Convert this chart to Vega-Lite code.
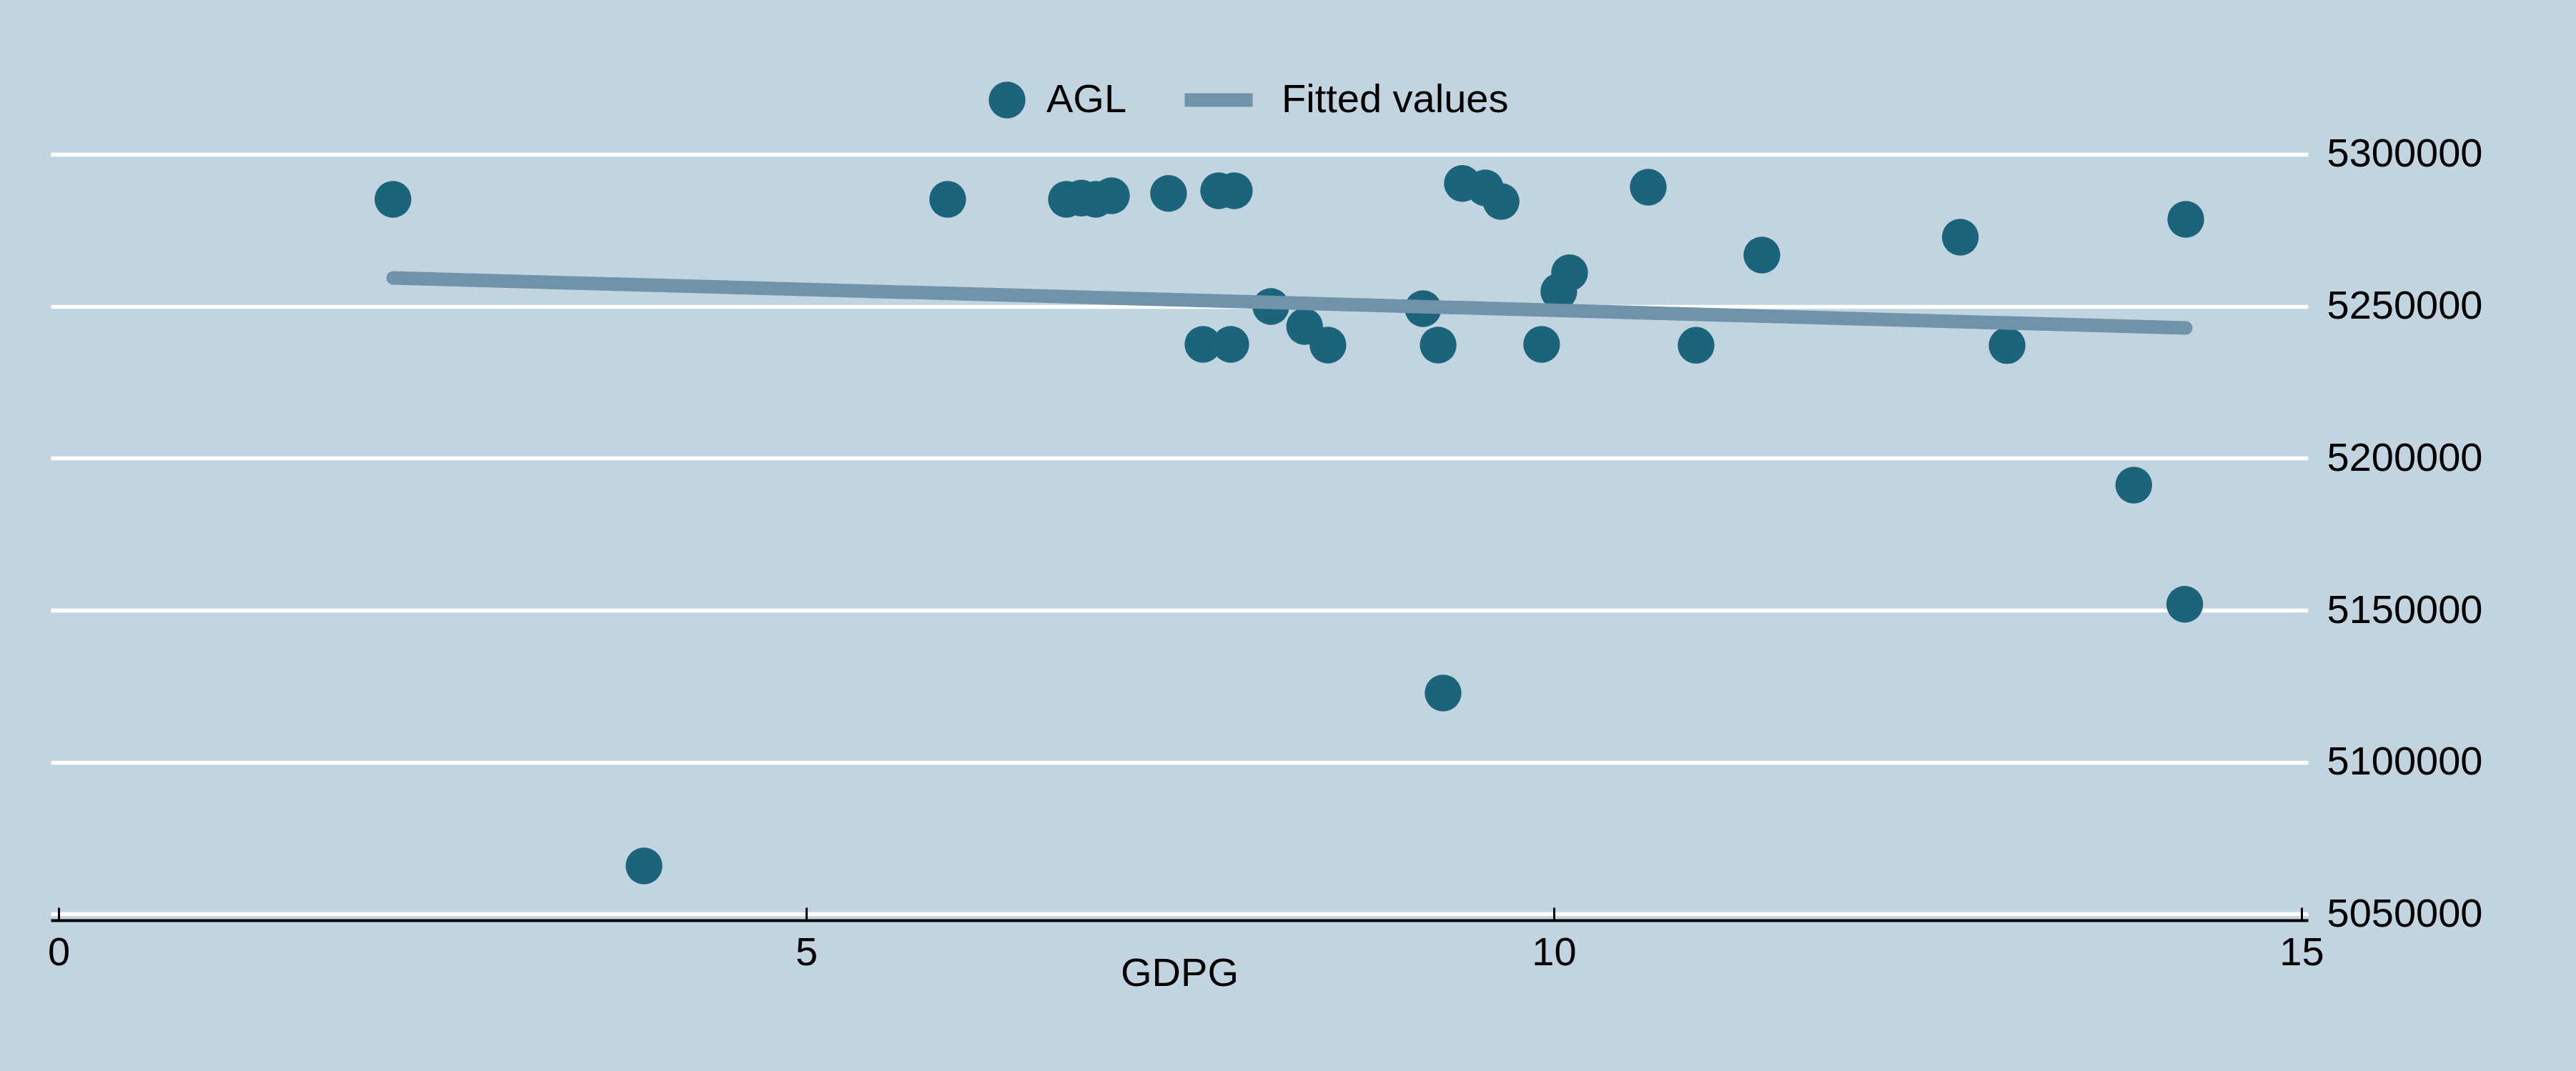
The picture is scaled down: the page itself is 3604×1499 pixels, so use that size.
{
  "$schema": "https://vega.github.io/schema/vega-lite/v6.json",
  "width": 3158,
  "height": 1088,
  "autosize": {"type": "none"},
  "padding": {"left": 71, "top": 200, "right": 375, "bottom": 211},
  "background": "#C1D4E0",
  "config": {"view": {"stroke": null}, "font": "Liberation Sans"},
  "datasets": {
    "points": [
      {"GDPG": 2.236, "AGL": 5285190, "series": "AGL"},
      {"GDPG": 3.915, "AGL": 5065870, "series": "AGL"},
      {"GDPG": 5.946, "AGL": 5285190, "series": "AGL"},
      {"GDPG": 6.740, "AGL": 5285190, "series": "AGL"},
      {"GDPG": 6.840, "AGL": 5285590, "series": "AGL"},
      {"GDPG": 6.936, "AGL": 5285190, "series": "AGL"},
      {"GDPG": 7.041, "AGL": 5286370, "series": "AGL"},
      {"GDPG": 7.423, "AGL": 5287140, "series": "AGL"},
      {"GDPG": 7.758, "AGL": 5288010, "series": "AGL"},
      {"GDPG": 7.863, "AGL": 5288010, "series": "AGL"},
      {"GDPG": 7.653, "AGL": 5237470, "series": "AGL"},
      {"GDPG": 7.839, "AGL": 5237470, "series": "AGL"},
      {"GDPG": 8.107, "AGL": 5249930, "series": "AGL"},
      {"GDPG": 8.333, "AGL": 5243350, "series": "AGL"},
      {"GDPG": 8.489, "AGL": 5237240, "series": "AGL"},
      {"GDPG": 9.125, "AGL": 5249220, "series": "AGL"},
      {"GDPG": 9.226, "AGL": 5237240, "series": "AGL"},
      {"GDPG": 9.259, "AGL": 5122760, "series": "AGL"},
      {"GDPG": 9.388, "AGL": 5290430, "series": "AGL"},
      {"GDPG": 9.541, "AGL": 5288950, "series": "AGL"},
      {"GDPG": 9.647, "AGL": 5284490, "series": "AGL"},
      {"GDPG": 9.918, "AGL": 5237470, "series": "AGL"},
      {"GDPG": 10.033, "AGL": 5254870, "series": "AGL"},
      {"GDPG": 10.105, "AGL": 5261050, "series": "AGL"},
      {"GDPG": 10.631, "AGL": 5289190, "series": "AGL"},
      {"GDPG": 10.951, "AGL": 5237160, "series": "AGL"},
      {"GDPG": 11.391, "AGL": 5266850, "series": "AGL"},
      {"GDPG": 12.718, "AGL": 5272730, "series": "AGL"},
      {"GDPG": 13.031, "AGL": 5237080, "series": "AGL"},
      {"GDPG": 13.878, "AGL": 5191160, "series": "AGL"},
      {"GDPG": 14.219, "AGL": 5151970, "series": "AGL"},
      {"GDPG": 14.226, "AGL": 5278610, "series": "AGL"}
    ],
    "fit": [
      {"GDPG": 2.237, "AGL": 5259330, "series": "Fitted values"},
      {"GDPG": 14.226, "AGL": 5242880, "series": "Fitted values"}
    ]
  },
  "layer": [
    {
      "data": {"name": "points"},
      "mark": {"type": "point", "filled": true, "opacity": 1, "size": 2642, "strokeWidth": 0},
      "encoding": {
        "x": {
          "field": "GDPG",
          "type": "quantitative",
          "scale": {"domain": [-0.0526, 15.043], "nice": false, "zero": false},
          "axis": {
            "orient": "bottom",
            "values": [0, 5, 10, 15],
            "format": "d",
            "grid": false,
            "domain": true,
            "domainColor": "black",
            "domainWidth": 4,
            "ticks": true,
            "tickColor": "black",
            "tickWidth": 3,
            "tickSize": -18,
            "labelFontSize": 56,
            "labelColor": "black",
            "labelPadding": 36,
            "labelFlush": false,
            "labelOverlap": false,
            "labelLimit": 0,
            "title": "GDPG",
            "titleFontSize": 56,
            "titleFontWeight": "normal",
            "titleColor": "black",
            "titlePadding": -26
          }
        },
        "y": {
          "field": "AGL",
          "type": "quantitative",
          "scale": {"domain": [5048000, 5303761], "nice": false, "zero": false},
          "axis": {
            "orient": "right",
            "values": [5050000, 5100000, 5150000, 5200000, 5250000, 5300000],
            "format": "d",
            "grid": true,
            "gridColor": "white",
            "gridWidth": 5.5,
            "gridOpacity": 1,
            "domain": false,
            "ticks": false,
            "tickSize": 0,
            "labelFontSize": 56,
            "labelColor": "black",
            "labelPadding": 26,
            "labelFlush": false,
            "labelOverlap": false,
            "labelLimit": 0,
            "title": null
          }
        },
        "color": {
          "field": "series",
          "type": "nominal",
          "scale": {"domain": ["AGL", "Fitted values"], "range": ["#1C637C", "#6F93AA"]},
          "legend": {
            "orient": "none",
            "legendX": 1310,
            "legendY": -88,
            "direction": "horizontal",
            "title": null,
            "padding": 0,
            "labelFontSize": 56,
            "labelColor": "black",
            "labelOffset": 27,
            "labelLimit": 0,
            "columnPadding": 80,
            "symbolSize": 2642,
            "symbolType": "circle",
            "symbolStrokeWidth": 0,
            "symbolOpacity": 1,
            "encode": {
              "symbols": {
                "update": {
                  "shape": {"signal": "datum.value === 'AGL' ? 'circle' : 'M-1.85,-0.37H1.85V0.37H-1.85Z'"},
                  "fill": {"signal": "datum.value === 'AGL' ? '#1C637C' : '#6F93AA'"},
                  "strokeWidth": {"value": 0},
                  "opacity": {"value": 1}
                }
              },
              "labels": {
                "update": {
                  "dx": {"signal": "datum.value === 'AGL' ? 0 : 33"}
                }
              }
            }
          }
        }
      }
    },
    {
      "data": {"name": "fit"},
      "mark": {"type": "line", "strokeWidth": 19, "strokeCap": "round"},
      "encoding": {
        "x": {"field": "GDPG", "type": "quantitative"},
        "y": {"field": "AGL", "type": "quantitative"},
        "color": {"field": "series", "type": "nominal"}
      }
    }
  ]
}
